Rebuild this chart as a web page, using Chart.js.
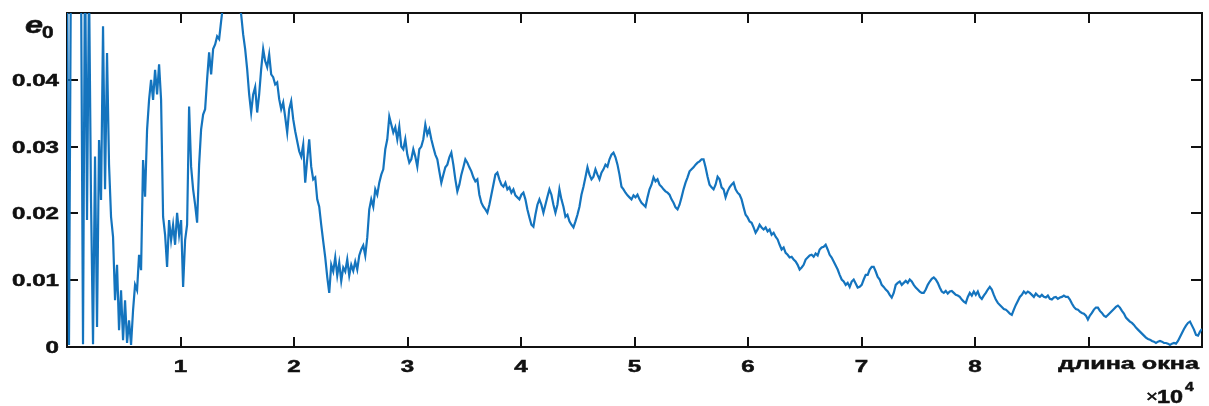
<!DOCTYPE html>
<html>
<head>
<meta charset="utf-8">
<title>e0</title>
<script src="https://cdn.jsdelivr.net/npm/chart.js@4"></script>
<style>
  html, body { margin: 0; padding: 0; background: #fff; }
  canvas { display: block; }
</style>
</head>
<body>
<canvas id="e0Chart" width="1209" height="406"></canvas>
<script>
// e0 sampled evenly over window lengths 0..100000, split by region
const e0Start = [
  0.06, 0.0003, 0.06, 0.06, 0.065, 0.062, 0.06, 0.056, 0.0004, 0.06,
  0.019, 0.055, 0.022, 0.0004, 0.0285, 0.003, 0.031, 0.022, 0.048, 0.0236,
  0.044, 0.0273, 0.0195, 0.0165, 0.007, 0.0123, 0.0025, 0.0085, 0.001, 0.007,
  0.0006, 0.004, 0.0003, 0.0055, 0.0093, 0.0085, 0.0138, 0.0115, 0.028, 0.0225,
  0.0325, 0.037, 0.04, 0.037, 0.0415, 0.0378, 0.0423, 0.037, 0.0195, 0.0168
];
const e0Peak = [
  0.012, 0.019, 0.016, 0.0183, 0.0153, 0.0201, 0.0168, 0.019, 0.009, 0.016,
  0.0183, 0.036, 0.027, 0.0236, 0.0213, 0.0186, 0.0273, 0.0326, 0.0348, 0.0356,
  0.0401, 0.0441, 0.0408, 0.0446, 0.0453, 0.0465, 0.0461, 0.0488, 0.0513, 0.0528,
  0.0536, 0.055, 0.0543, 0.0536, 0.0528, 0.0521, 0.0509, 0.0498, 0.0468, 0.0446,
  0.0416, 0.0378, 0.0351, 0.0378, 0.0389, 0.0351, 0.0378, 0.0416, 0.0446, 0.0428,
  0.0419, 0.0438, 0.0408, 0.0404, 0.0393, 0.0396, 0.0371, 0.0356, 0.0366, 0.0344,
  0.0321, 0.0356, 0.0368, 0.0341, 0.0323, 0.0308, 0.0293, 0.0285, 0.0303, 0.0246,
  0.0281, 0.0311, 0.027, 0.0251, 0.0254, 0.0221, 0.021, 0.0183, 0.0158, 0.0134,
  0.0105, 0.0081, 0.0123, 0.0113, 0.0134, 0.0107, 0.0126, 0.0099, 0.0119, 0.0113,
  0.0131, 0.0107
];
const e0Middle = [
  0.0123, 0.0114, 0.0128, 0.0116, 0.0137, 0.0146, 0.0152, 0.0137, 0.0164, 0.0206,
  0.0221, 0.021, 0.0236, 0.0228, 0.0246, 0.0258, 0.0266, 0.0296, 0.0311, 0.0345,
  0.0333, 0.0321, 0.0329, 0.0311, 0.033, 0.03, 0.0296, 0.0311, 0.0288, 0.0276,
  0.0281, 0.0296, 0.0285, 0.027, 0.0296, 0.03, 0.0311, 0.0333, 0.0318, 0.0326,
  0.0311, 0.0299, 0.0288, 0.0281, 0.0263, 0.0246, 0.0258, 0.0269, 0.0273, 0.0284,
  0.0291, 0.0273, 0.0251, 0.0233, 0.0243, 0.0258, 0.0269, 0.0281, 0.0276, 0.0269,
  0.0263, 0.0254, 0.0248, 0.0251, 0.0228, 0.0216, 0.021, 0.0206, 0.0201, 0.0213,
  0.0228, 0.0243, 0.0258, 0.0261, 0.0251, 0.0243, 0.024, 0.0246, 0.0236, 0.0239,
  0.0231, 0.0236, 0.0227, 0.0224, 0.0221, 0.0228, 0.0231, 0.0221, 0.0206, 0.0194,
  0.0183, 0.018, 0.0198, 0.0213, 0.0221, 0.0213, 0.0201, 0.0213, 0.0225, 0.0236
];
const e0Hills = [
  0.0228, 0.0213, 0.0201, 0.0213, 0.0236, 0.0221, 0.021, 0.0195, 0.0198, 0.0188,
  0.0183, 0.0179, 0.0188, 0.0198, 0.021, 0.0228, 0.024, 0.0254, 0.0269, 0.0258,
  0.0251, 0.0255, 0.0266, 0.0258, 0.0251, 0.0261, 0.0266, 0.0273, 0.027, 0.0281,
  0.0288, 0.0291, 0.0284, 0.0273, 0.0258, 0.024, 0.0236, 0.0231, 0.0227, 0.0224,
  0.0221, 0.0227, 0.0224, 0.0228, 0.0221, 0.0216, 0.0213, 0.021, 0.0224, 0.0236,
  0.0243, 0.0254, 0.0248, 0.0251, 0.0243, 0.024, 0.0236, 0.0233, 0.0231, 0.0228,
  0.0221, 0.0216, 0.0209, 0.0206, 0.0213, 0.0224, 0.0236, 0.0246, 0.0254, 0.0263,
  0.0266, 0.0269, 0.0273, 0.0276, 0.0278, 0.0281, 0.0281, 0.0269, 0.0255, 0.0243,
  0.0239, 0.0236, 0.0243, 0.0255, 0.0251, 0.0239, 0.0236, 0.0224, 0.0233, 0.0239,
  0.0243, 0.0246, 0.0236, 0.0231, 0.0228, 0.0221, 0.0209, 0.0198, 0.0194, 0.0188,
  0.0186, 0.0179, 0.0171, 0.0176, 0.0183, 0.0179, 0.0176, 0.0179, 0.0173, 0.0176,
  0.0168, 0.0171, 0.0165, 0.0161, 0.0153, 0.0146, 0.0149, 0.0141, 0.0138, 0.0134,
  0.0135, 0.0131, 0.0128, 0.0123, 0.0116, 0.0119, 0.0123, 0.0131, 0.0134, 0.0137,
  0.0138, 0.0135, 0.014, 0.0137, 0.0146, 0.0149, 0.015, 0.0153, 0.0146, 0.0138,
  0.0134, 0.0128, 0.0122, 0.0116, 0.0108, 0.0101, 0.0098, 0.0093, 0.0096, 0.009
];
const e0Tail = [
  0.0098, 0.0101, 0.0095, 0.0089, 0.009, 0.0093, 0.0101, 0.0108, 0.0108, 0.0116,
  0.012, 0.012, 0.0113, 0.0105, 0.0101, 0.0093, 0.009, 0.0086, 0.0083, 0.0078,
  0.0074, 0.0081, 0.0093, 0.0096, 0.0098, 0.0093, 0.0096, 0.0099, 0.0096, 0.0101,
  0.0098, 0.0093, 0.0089, 0.0086, 0.0083, 0.0081, 0.0081, 0.0086, 0.0093, 0.0098,
  0.0102, 0.0104, 0.0101, 0.0096, 0.0089, 0.0083, 0.0081, 0.0084, 0.008, 0.0083,
  0.0084, 0.0081, 0.0078, 0.0077, 0.0075, 0.0071, 0.0068, 0.0066, 0.0075, 0.0081,
  0.0077, 0.0083, 0.0078, 0.0083, 0.0075, 0.0072, 0.0077, 0.0081, 0.0086, 0.009,
  0.0086, 0.0078, 0.0071, 0.0066, 0.0063, 0.006, 0.0057, 0.0056, 0.0053, 0.005,
  0.0048, 0.0056, 0.0063, 0.0069, 0.0075, 0.0078, 0.0083, 0.008, 0.0083, 0.0081,
  0.0078, 0.0075, 0.008, 0.0077, 0.0075, 0.0078, 0.0075, 0.0074, 0.0077, 0.0072,
  0.0071, 0.0074, 0.0075, 0.0072, 0.0074, 0.0075, 0.0077, 0.0075, 0.0075, 0.0071,
  0.0065, 0.006, 0.0057, 0.0056, 0.0053, 0.0051, 0.005, 0.0047, 0.0041, 0.0047,
  0.0051, 0.0056, 0.0059, 0.0059, 0.0054, 0.0051, 0.0047, 0.0045, 0.0048, 0.0051,
  0.0054, 0.0057, 0.006, 0.0062, 0.0059, 0.0054, 0.005, 0.0044, 0.0041, 0.0038,
  0.0036, 0.0033, 0.0029, 0.0026, 0.0023, 0.002, 0.0017, 0.0014, 0.0012, 0.0011,
  0.0009, 0.0008, 0.0006, 0.0008, 0.0009, 0.0008, 0.0006, 0.0006, 0.0005, 0.0003,
  0.0005, 0.0006, 0.0005, 0.0009, 0.0015, 0.0021, 0.0027, 0.0032, 0.0036, 0.0038,
  0.0032, 0.0026, 0.0018, 0.0017, 0.0023, 0.0027
];

const maxWindow = 100000;
const xTickValues = [10000, 20000, 30000, 40000, 50000, 60000, 70000, 80000, 90000];
const xTickLabels = ['1', '2', '3', '4', '5', '6', '7', '8'];
const yTickValues = [0, 0.01, 0.02, 0.03, 0.04];
const yTickLabels = ['0', '0.01', '0.02', '0.03', '0.04'];
const xTitle = 'длина окна';

const e0 = [].concat(e0Start, e0Peak, e0Middle, e0Hills, e0Tail);
const points = e0.map((v, i) => ({ x: i * maxWindow / (e0.length - 1), y: v }));

const INK = '#111';
const FAMILY = '"Liberation Sans", Arial, sans-serif';
const LABEL_FONT = 'bold 17px ' + FAMILY;
const STRETCH = 1.42;

// wide, heavy label text
function wideText(ctx, text, x, y, font, align, sx) {
  ctx.save();
  ctx.font = font;
  ctx.textAlign = align;
  ctx.textBaseline = 'alphabetic';
  ctx.translate(x, y);
  ctx.scale(sx, 1);
  ctx.fillText(text, 0, 0);
  ctx.lineWidth = 0.5;
  ctx.strokeText(text, 0, 0);
  ctx.restore();
}

// box with inward ticks on all four sides
const boxAxes = {
  id: 'boxAxes',
  beforeDatasetsDraw(chart) {
    const { ctx, chartArea: a, scales } = chart;
    ctx.save();
    ctx.strokeStyle = INK;
    ctx.lineWidth = 2;
    ctx.strokeRect(a.left, a.top, a.right - a.left, a.bottom - a.top);
    ctx.beginPath();
    xTickValues.forEach(v => {
      const px = Math.round(scales.x.getPixelForValue(v));
      ctx.moveTo(px, a.bottom); ctx.lineTo(px, a.bottom - 10);
      ctx.moveTo(px, a.top); ctx.lineTo(px, a.top + 10);
    });
    yTickValues.slice(1).forEach(v => {
      const py = Math.round(scales.y.getPixelForValue(v));
      ctx.moveTo(a.left, py); ctx.lineTo(a.left + 11, py);
      ctx.moveTo(a.right, py); ctx.lineTo(a.right - 11, py);
    });
    ctx.stroke();
    ctx.restore();
  },
  afterDraw(chart) {
    const { ctx, chartArea: a, scales } = chart;
    ctx.save();
    ctx.fillStyle = INK;
    ctx.strokeStyle = INK;
    xTickLabels.forEach((t, i) => {
      wideText(ctx, t, scales.x.getPixelForValue(xTickValues[i]), a.bottom + 25, LABEL_FONT, 'center', STRETCH);
    });
    yTickLabels.forEach((t, i) => {
      wideText(ctx, t, a.left - 8, scales.y.getPixelForValue(yTickValues[i]) + 6, LABEL_FONT, 'right', STRETCH);
    });
    // axis titles
    wideText(ctx, xTitle, a.right - 3, a.bottom + 22, LABEL_FONT, 'right', 1.48);
    wideText(ctx, 'e', 25, 33, 'italic bold 24px ' + FAMILY, 'left', 1.35);
    wideText(ctx, '0', 42, 38, 'bold 16px ' + FAMILY, 'left', 1.3);
    // exponent of the x axis
    wideText(ctx, '\u00d7', 1146, 402, '17px ' + FAMILY, 'left', 1.2);
    wideText(ctx, '10', 1157, 403, 'bold 18px ' + FAMILY, 'left', 1.3);
    wideText(ctx, '4', 1185, 391, 'bold 12px ' + FAMILY, 'left', 1.3);
    ctx.restore();
  }
};

new Chart(document.getElementById('e0Chart').getContext('2d'), {
  type: 'line',
  data: {
    datasets: [{
      data: points,
      borderColor: 'rgb(20, 116, 190)',
      borderWidth: 2.2,
      pointRadius: 0,
      tension: 0,
      fill: false
    }]
  },
  options: {
    responsive: false,
    animation: false,
    devicePixelRatio: 1,
    layout: { padding: { top: 13, right: 7, left: 0, bottom: 0 } },
    scales: {
      x: {
        type: 'linear',
        min: 0,
        max: maxWindow,
        ticks: { display: false },
        grid: { display: false },
        border: { display: false },
        afterFit: s => { s.height = 59; }
      },
      y: {
        min: 0,
        max: 0.05,
        ticks: { display: false },
        grid: { display: false },
        border: { display: false },
        afterFit: s => { s.width = 67; }
      }
    },
    plugins: {
      legend: { display: false },
      tooltip: { enabled: false }
    }
  },
  plugins: [boxAxes]
});
</script>
</body>
</html>
